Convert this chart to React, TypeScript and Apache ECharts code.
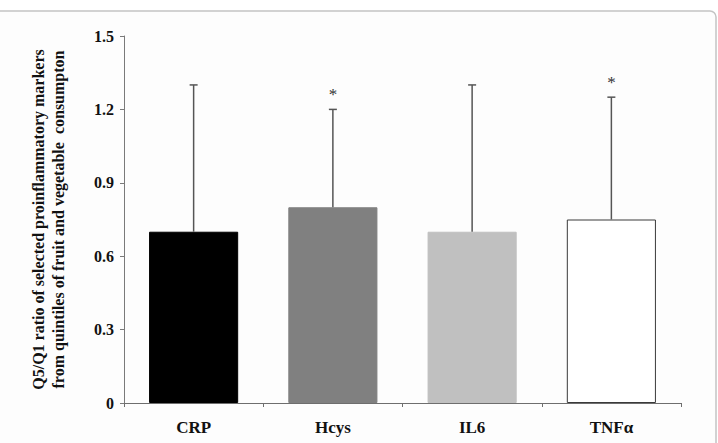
import React, { useEffect, useRef } from "react";
import * as echarts from "echarts";

// Inflammatory markers and their Q5/Q1 ratios
const categories = ["CRP", "Hcys", "IL6", "TNFα"];
const ratios = [0.7, 0.8, 0.7, 0.75];
const upperBounds = [1.3, 1.2, 1.3, 1.25];
const significance = ["", "*", "", "*"];
const barColors = ["#000000", "#808080", "#c0c0c0", "#ffffff"];
const barBorders = ["#000000", "#808080", "#c0c0c0", "#3a3a3a"];
const yTicks = [0, 0.3, 0.6, 0.9, 1.2, 1.5];

const serif = "'Liberation Serif', 'Times New Roman', serif";

export default function App() {
  const ref = useRef<HTMLDivElement>(null);

  useEffect(() => {
    if (!ref.current) return;
    const chart = echarts.init(ref.current, undefined, { renderer: "svg" });

    const errorData = categories.map((_, i) => [i, ratios[i], upperBounds[i], significance[i]]);

    chart.setOption({
      animation: false,
      backgroundColor: "#ffffff",
      graphic: [
        {
          type: "rect",
          z: -10,
          silent: true,
          shape: { x: -10, y: 11, width: 726, height: 460, r: 6 },
          style: { fill: "#fdfdfd", stroke: "#c4c4c4", lineWidth: 1.5 },
        },
      ],
      grid: { left: 124, right: 37, top: 36, bottom: 40 },
      xAxis: {
        type: "category",
        data: categories,
        axisLine: { lineStyle: { color: "#6e6e6e", width: 1 } },
        axisTick: { show: true, length: 4, lineStyle: { color: "#6e6e6e" } },
        axisLabel: {
          margin: 16,
          fontFamily: serif,
          fontWeight: "bold",
          fontSize: 17,
          color: "#111",
        },
      },
      yAxis: {
        type: "value",
        min: yTicks[0],
        max: yTicks[yTicks.length - 1],
        interval: 0.3,
        splitLine: { show: false },
        axisLine: { show: true, lineStyle: { color: "#7a7a7a", width: 1 } },
        axisTick: { show: true, length: 4, lineStyle: { color: "#7a7a7a" } },
        axisLabel: {
          margin: 10,
          fontFamily: serif,
          fontWeight: "bold",
          fontSize: 16,
          color: "#111",
          formatter: (v: number) => String(Math.round(v * 10) / 10),
        },
        name: "Q5/Q1 ratio of selected proinflammatory markers\nfrom quintiles of fruit and vegetable  consumpton",
        nameLocation: "middle",
        nameRotate: 90,
        nameGap: 56,
        nameTextStyle: {
          fontFamily: serif,
          fontWeight: "bold",
          fontSize: 16,
          lineHeight: 20,
          color: "#111",
        },
      },
      series: [
        {
          type: "bar",
          barWidth: "64%",
          data: ratios.map((v, i) => ({
            value: v,
            itemStyle: {
              color: barColors[i],
              borderColor: barBorders[i],
              borderWidth: 1,
            },
          })),
        },
        {
          type: "custom",
          data: errorData,
          z: 5,
          renderItem: (params: any, api: any) => {
            const idx = api.value(0);
            const base = api.coord([idx, api.value(1)]);
            const top = api.coord([idx, api.value(2)]);
            const mark = significance[params.dataIndex];
            const halfCap = 4;
            const stroke = { stroke: "#555", lineWidth: 1.5 };
            const children: any[] = [
              {
                type: "line",
                shape: { x1: base[0], y1: base[1], x2: top[0], y2: top[1] },
                style: stroke,
              },
              {
                type: "line",
                shape: { x1: top[0] - halfCap, y1: top[1], x2: top[0] + halfCap, y2: top[1] },
                style: stroke,
              },
            ];
            if (mark) {
              children.push({
                type: "text",
                x: top[0],
                y: top[1] - 15,
                style: {
                  text: mark,
                  fontFamily: serif,
                  fontSize: 17,
                  fill: "#333",
                  align: "center",
                  verticalAlign: "middle",
                },
              });
            }
            return { type: "group", children };
          },
        },
      ],
    });

    return () => chart.dispose();
  }, []);

  return (
    <div style={{ position: "fixed", left: 0, top: 0, width: 718, height: 443, background: "#fff" }}>
      <div ref={ref} style={{ width: 718, height: 443 }} />
    </div>
  );
}
